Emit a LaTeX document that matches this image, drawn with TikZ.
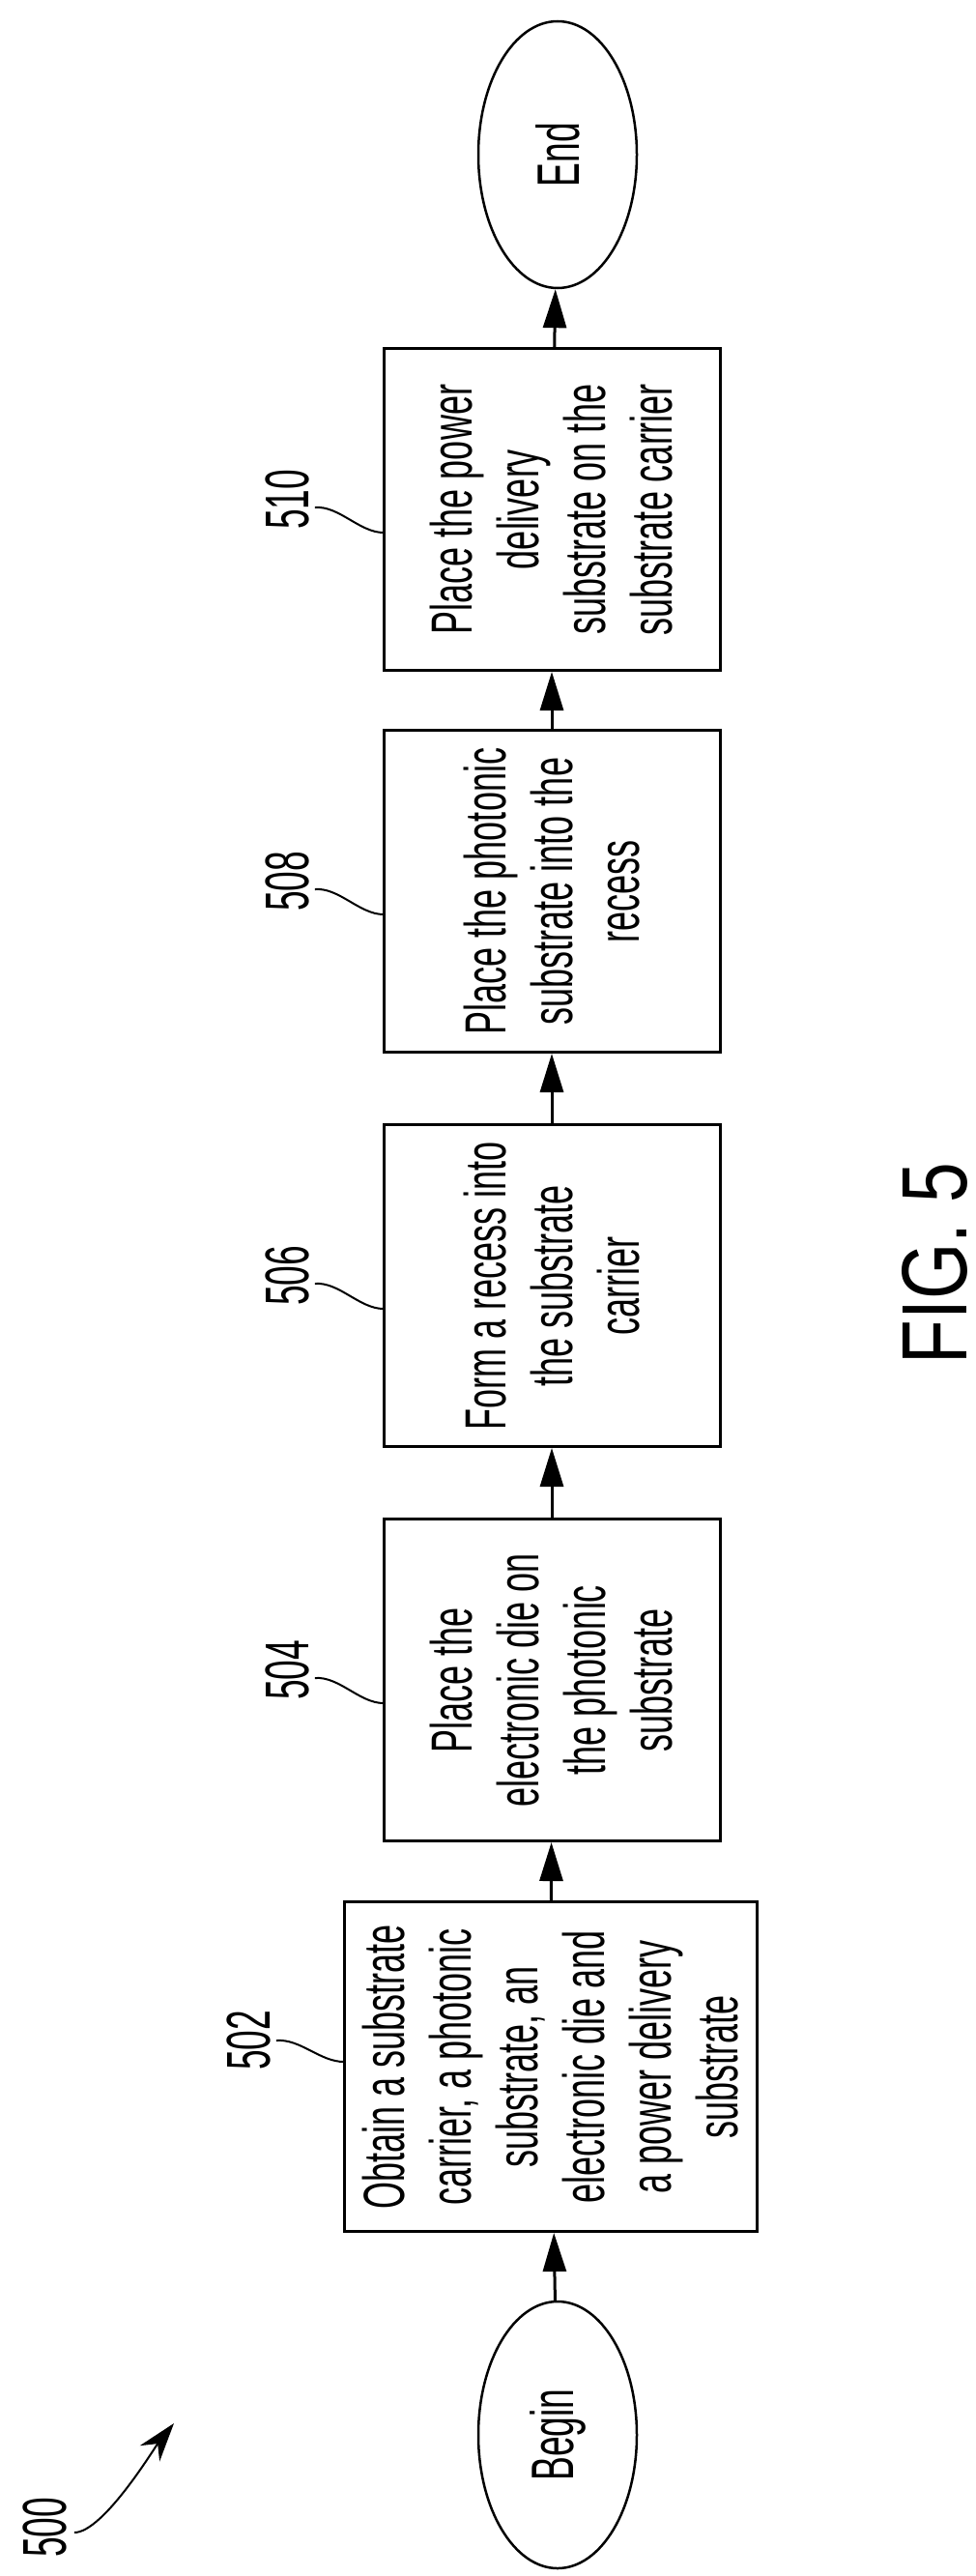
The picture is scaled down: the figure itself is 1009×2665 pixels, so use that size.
\documentclass[tikz,border=0pt]{standalone}
\usepackage{fontspec}
\usetikzlibrary{shapes.geometric,arrows.meta}
\newfontfamily\boxf[FakeStretch=0.6]{Liberation Sans}
\newfontfamily\labf[FakeStretch=0.58]{Liberation Sans}
\newfontfamily\figf[FakeStretch=0.78]{Liberation Sans}
\begin{document}
\begin{tikzpicture}[x=1pt,y=-1pt,
  box/.style={draw,line width=3pt,rotate=90,inner sep=0pt,align=center,
    minimum width=333pt,minimum height=348pt,font=\boxf\fontsize{60}{69}\selectfont},
  term/.style={draw,ellipse,line width=2.5pt,rotate=90,inner sep=0pt,
    minimum width=276pt,minimum height=164pt,font=\boxf\fontsize{62}{69}\selectfont},
  lab/.style={rotate=90,inner sep=0pt,font=\labf\fontsize{64}{64}\selectfont},
  lead/.style={line width=2pt},
  flow/.style={line width=3pt,-{Triangle[length=40pt,width=24pt]}}]
\useasboundingbox (0,0) rectangle (1009,2665);
\node[term] (end) at (577,160) {End};
\node[box] (b510) at (571,527) {Place the power\\delivery\\substrate on the\\substrate carrier};
\node[box] (b508) at (571,922) {Place the photonic\\substrate into the\\recess};
\node[box] (b506) at (571,1330) {Form a recess into\\the substrate\\carrier};
\node[box] (b504) at (571,1738) {Place the\\electronic die on\\the photonic\\substrate};
\node[box,minimum width=341pt,minimum height=427pt] (b502) at (570,2138) {Obtain a substrate\\carrier, a photonic\\substrate, an\\electronic die and\\a power delivery\\substrate};
\node[term] (begin) at (577,2519) {Begin};
\draw[flow] (begin) -- (b502);
\draw[flow] (b502) -- (b504);
\draw[flow] (b504) -- (b506);
\draw[flow] (b506) -- (b508);
\draw[flow] (b508) -- (b510);
\draw[flow] (b510) -- (end);
\node[lab] (l510) at (297,517) {510};
\node[lab] (l508) at (297,912) {508};
\node[lab] (l506) at (297,1320) {506};
\node[lab] (l504) at (297,1728) {504};
\node[lab] (l502) at (257,2111) {502};
\coordinate (e510) at (397,551);
\coordinate (e508) at (397,946);
\coordinate (e506) at (397,1354);
\coordinate (e504) at (397,1762);
\coordinate (e502) at (356,2133);
\foreach \n in {510,508,506,504}{
  \draw[lead] ([xshift=6pt,yshift=-8pt]l\n.south) .. controls +(25,-2) and +(-25,0) .. (e\n);
}
\draw[lead] ([xshift=6pt]l502.south) .. controls +(25,-2) and +(-25,0) .. (e502);
\node[lab] (l500) at (46,2615) {500};
\coordinate (t500) at (180,2507);
\draw[line width=2pt,-{Stealth[length=40pt,width=26pt]}] ([xshift=8pt,yshift=-5pt]l500.south) .. controls +(30,0) and +(-20,25) .. (t500);
\node[rotate=90,inner sep=0pt,font=\figf\fontsize{96}{96}\selectfont] (fig) at (967,1307) {FIG. 5};
\end{tikzpicture}
\end{document}
